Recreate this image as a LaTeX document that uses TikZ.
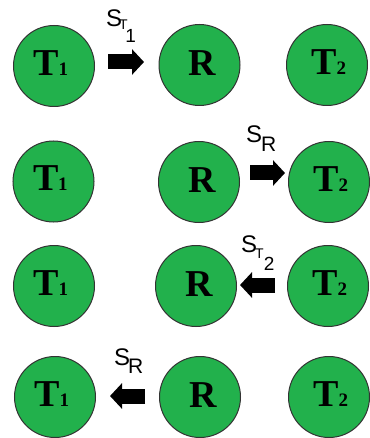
\documentclass[tikz,border=0pt]{standalone}
\usepackage{fontspec}
\setmainfont{Liberation Serif}
\newfontfamily\lsans{Liberation Sans}
\usetikzlibrary{arrows.meta}
\definecolor{nodegreen}{RGB}{34,177,76}
\newcommand\bigT[1]{T\kern-0.5pt{\fontsize{19}{19}\selectfont #1}}
\begin{document}
\begin{tikzpicture}[x=1pt,y=-1pt,
  station/.style={circle, draw=black!80, line width=1pt, fill=nodegreen, minimum size=81pt, inner sep=0pt},
  nodetext/.style={font=\fontsize{38}{38}\selectfont\bfseries, inner sep=0pt},
  sig/.style={line width=15pt, -{Triangle[length=12pt,width=25pt]}},
  lab/.style={inner sep=0pt, anchor=base west, font=\lsans\fontsize{24}{24}\selectfont}]
\useasboundingbox (0,0) rectangle (369,438);

% row 1
\node[station] (c1a) at (54,66) {};
\node[station] (c1b) at (199.5,65) {};
\node[station] (c1c) at (327,65) {};
% row 2
\node[station] (c2a) at (53.5,181.5) {};
\node[station] (c2b) at (199,182) {};
\node[station] (c2c) at (329,182) {};
% row 3
\node[station] (c3a) at (54,286) {};
\node[station] (c3b) at (196,286) {};
\node[station] (c3c) at (328,286) {};
% row 4
\node[station] (c4a) at (55,397) {};
\node[station] (c4b) at (200,397) {};
\node[station] (c4c) at (329,397) {};

% texts
\foreach \r in {1,2,3,4}{
  \node[nodetext] (t\r a) at ([shift={(-3,-3)}]c\r a.center) {\bigT{1}};
  \node[nodetext] (t\r b) at ([shift={(3,-2)}]c\r b.center) {R};
  \node[nodetext] (t\r c) at ([shift={(2,-3)}]c\r c.center) {\bigT{2}};
}

% arrows
\coordinate (s1) at (108,62);  \coordinate (e1) at (144,62);
\coordinate (s2) at (250,173); \coordinate (e2) at (285,173);
\coordinate (s3) at (275,285); \coordinate (e3) at (240,285);
\coordinate (s4) at (145,396); \coordinate (e4) at (110,396);
\draw[sig] (s1) -- (e1);
\draw[sig] (s2) -- (e2);
\draw[sig] (s3) -- (e3);
\draw[sig] (s4) -- (e4);

% labels
\node[lab] (l1) at (106,27) {S\kern-3pt\raisebox{-3pt}{\fontsize{14}{14}\selectfont T}\kern-2.5pt\raisebox{-16pt}{\fontsize{19}{19}\selectfont 1}};
\node[lab] (l2) at (246,143) {S\kern-1pt\raisebox{-9pt}{\fontsize{21}{21}\selectfont R}};
\node[lab] (l3) at (241,252) {S\kern-2pt\raisebox{-6pt}{\fontsize{14}{14}\selectfont T}\kern0pt\raisebox{-18pt}{\fontsize{19}{19}\selectfont 2}};
\node[lab] (l4) at (114,365) {S\kern-2pt\raisebox{-8pt}{\fontsize{21}{21}\selectfont R}};
\end{tikzpicture}
\end{document}
